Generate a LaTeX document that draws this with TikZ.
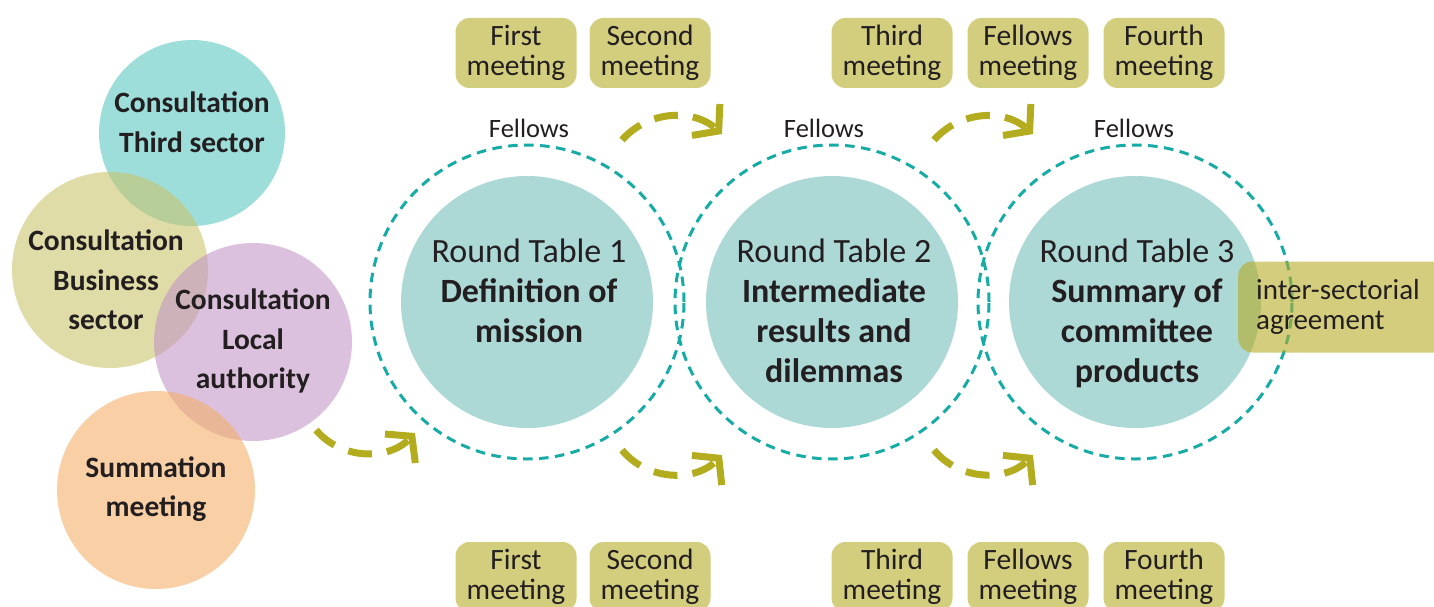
\documentclass[tikz,border=0pt]{standalone}
\usepackage{fontspec}
\setmainfont{Carlito}
\usetikzlibrary{arrows.meta,positioning}
\definecolor{ink}{HTML}{231F20}
\definecolor{tealbub}{RGB}{92,200,195}
\definecolor{olivebub}{RGB}{202,197,108}
\definecolor{lilacbub}{RGB}{195,152,198}
\definecolor{peachbub}{RGB}{245,175,107}
\definecolor{rtfill}{HTML}{ACD8D6}
\definecolor{ringline}{HTML}{17ABA5}
\definecolor{boxfill}{HTML}{D3CE7E}
\definecolor{agreefill}{RGB}{182,172,38}
\definecolor{flowgreen}{HTML}{B3AC1E}

\begin{document}
\begin{tikzpicture}[x=1pt, y=1pt, every node/.style={text=ink, inner sep=0pt},
            bubble/.style={circle, fill opacity=0.6},
            bubtext/.style={align=center, font=\fontsize{29.5}{39.5}\selectfont\bfseries},
            rtdisc/.style={circle, fill=rtfill, minimum size=252pt},
            ring/.style={circle, draw=ringline, line width=3pt, dash pattern=on 9.5pt off 6.5pt, minimum size=314pt},
            rttext/.style={anchor=north, align=center, font=\fontsize{34}{40}\selectfont}]
            \tikzset{meetbox/.style={fill=boxfill, rounded corners=14pt, minimum width=121pt, minimum height=70pt, align=center, font=\fontsize{29.5}{30}\selectfont}}
            \tikzset{fellowlabel/.style={anchor=base, font=\fontsize{26.5}{30}\selectfont}}
            \tikzset{flow/.style={draw=flowgreen, line width=7pt, dash pattern=on 24pt off 15pt, -{Straight Barb[length=17pt, width=42pt]}}}
            \useasboundingbox (0,0) rectangle (1434,-607);
            \node [bubble, fill=tealbub, minimum size=186pt] (c1) at (192,-133) {};
            \node [bubble, fill=olivebub, minimum size=196pt] (c2) at (110,-270) {};
            \node [bubble, fill=lilacbub, minimum size=198pt] (c3) at (253,-342) {};
            \node [bubble, fill=peachbub, minimum size=198pt] (c4) at (156,-490) {};
            \node [bubtext] (t1) at (192,-122) {Consultation\\Third sector};
            \node [bubtext] (t2) at (106,-280) {Consultation\\Business\\sector};
            \node [bubtext] (t3) at (253,-341) {Consultation\\Local\\authority};
            \node [bubtext] (t4) at (156,-489) {Summation\\meeting};
            \node [rtdisc] (r1) at (527,-302) {};
            \node [rtdisc] (r2) at (832,-302) {};
            \node [rtdisc] (r3) at (1135,-302) {};
            \node [ring] (g1) at (527,-302) {};
            \node [ring] (g2) at (832,-302) {};
            \node [ring] (g3) at (1135,-302) {};
            \node [rttext] (x1) at (529,-239) {Round Table 1\\\textbf{Definition of}\\\textbf{mission}};
            \node [rttext] (x2) at (834,-239) {Round Table 2\\\textbf{Intermediate}\\\textbf{results and}\\\textbf{dilemmas}};
            \node [rttext] (x3) at (1137,-239) {Round Table 3\\\textbf{Summary of}\\\textbf{committee}\\\textbf{products}};
            \node [fellowlabel] (f1) at (529,-138) {Fellows};
            \node [fellowlabel] (f2) at (824,-138) {Fellows};
            \node [fellowlabel] (f3) at (1134,-138) {Fellows};
            \node [meetbox] (m1) at (516,-53) {First\\meeting};
            \node [meetbox] (m2) at (650,-53) {Second\\meeting};
            \node [meetbox] (m3) at (892,-53) {Third\\meeting};
            \node [meetbox] (m4) at (1028,-53) {Fellows\\meeting};
            \node [meetbox] (m5) at (1164,-53) {Fourth\\meeting};
            \node [meetbox] (n1) at (516,-577) {First\\meeting};
            \node [meetbox] (n2) at (650,-577) {Second\\meeting};
            \node [meetbox] (n3) at (892,-577) {Third\\meeting};
            \node [meetbox] (n4) at (1028,-577) {Fellows\\meeting};
            \node [meetbox] (n5) at (1164,-577) {Fourth\\meeting};
            \node [anchor=west, fill=agreefill, fill opacity=0.6, text opacity=1, rounded corners=14pt, minimum height=91pt, text width=175pt, inner xsep=18pt, align=left, font=\fontsize{29}{29.5}\selectfont] (agree) at (1238,-307) {inter-sectorial\\agreement};
            \coordinate (s0) at (316,-430);
            \coordinate (e0) at (415,-433);
            \coordinate (s1) at (622,-140);
            \coordinate (e1) at (722,-134);
            \coordinate (s2) at (622,-450);
            \coordinate (e2) at (722,-455);
            \coordinate (s3) at (934,-140);
            \coordinate (e3) at (1033,-134);
            \coordinate (s4) at (934,-450);
            \coordinate (e4) at (1033,-455);
            \draw [flow] (s0) to [bend right=48] (e0);
            \draw [flow] (s1) to [bend left=45] (e1);
            \draw [flow] (s2) to [bend right=48] (e2);
            \draw [flow] (s3) to [bend left=45] (e3);
            \draw [flow] (s4) to [bend right=48] (e4);
        \end{tikzpicture}
\end{document}
